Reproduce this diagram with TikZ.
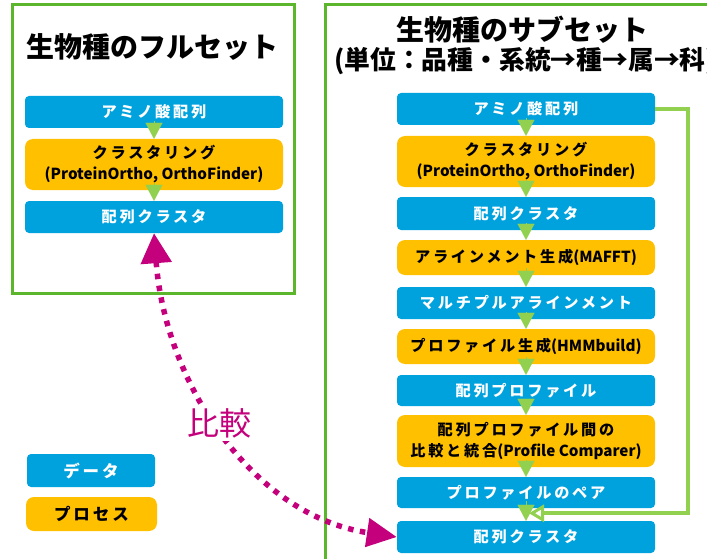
\documentclass[tikz,border=0pt]{standalone}
\usepackage{fontspec}
\setmainfont{Noto Sans CJK JP}
\usetikzlibrary{arrows.meta,calc}
\definecolor{dblue}{RGB}{0,162,222}
\definecolor{porange}{RGB}{255,192,0}
\definecolor{framegreen}{RGB}{92,182,44}
\definecolor{lgreen}{RGB}{146,208,80}
\definecolor{cmpmag}{RGB}{196,0,124}
\newcommand{\jpsp}[1]{{\addfontfeature{LetterSpace=18}#1}}
\tikzset{
  boxbase/.style={inner sep=0pt, minimum width=258pt, align=center, font=\fontsize{15.2}{21}\selectfont\bfseries},
  databox/.style={boxbase, fill=dblue, text=white, rounded corners=4pt},
  procbox/.style={boxbase, fill=porange, text=black, rounded corners=8pt},
  framebox/.style={draw=framegreen, line width=3pt},
  titletext/.style={font=\fontsize{28}{32}\selectfont\bfseries, inner sep=0pt},
  subtitletext/.style={font=\fontsize{25.8}{30}\selectfont\bfseries, inner sep=0pt},
  flowtip/.style={draw=lgreen, line width=0.1pt, -{Triangle[length=16pt,width=17pt]}, fill=lgreen},
  backline/.style={draw=lgreen, line width=4.5pt, -{Triangle[open,length=15pt,width=17pt,line width=3pt]}},
  cmpline/.style={draw=cmpmag, line width=5.5pt, dash pattern=on 5.5pt off 6.5pt,
     {Triangle[length=30pt,width=30pt,fill=cmpmag]}-{Triangle[length=30pt,width=28pt,fill=cmpmag]}},
  cmplabel/.style={text=cmpmag, fill=white, inner sep=3pt, font=\fontsize{32}{36}\selectfont}
}
\begin{document}
\begin{tikzpicture}[x=1pt,y=-1pt]
\clip (0,0) rectangle (707,559);
\fill[white] (0,0) rectangle (707,559);
% frames
\draw[framebox] (12,5) rectangle (294,293);
\draw[framebox] (325,5) rectangle (760,600);
% titles
\node[titletext] (t1) at (153,47) {生物種のフルセット};
\node[titletext] (t2) at (522,30) {生物種のサブセット};
\node[subtitletext, anchor=west] (t3) at (334,61) {(単位：品種・系統→種→属→科)};
% left column
\node[databox, minimum height=32pt] (l1) at (154,112) {\jpsp{アミノ酸配列}};
\node[procbox, minimum height=51pt] (l2) at (154,164.5) {\jpsp{クラスタリング}\\(ProteinOrtho, OrthoFinder)};
\node[databox, minimum height=32pt] (l3) at (154,217) {\jpsp{配列クラスタ}};
% right column
\node[databox, minimum height=32pt] (r1) at (526,109) {\jpsp{アミノ酸配列}};
\node[procbox, minimum height=51pt] (r2) at (526,161.5) {\jpsp{クラスタリング}\\(ProteinOrtho, OrthoFinder)};
\node[databox, minimum height=33pt] (r3) at (526,213.5) {\jpsp{配列クラスタ}};
\node[procbox, minimum height=35pt] (r4) at (526,257.5) {\jpsp{アラインメント生成}(MAFFT)};
\node[databox, minimum height=32pt] (r5) at (526,303) {\jpsp{マルチプルアラインメント}};
\node[procbox, minimum height=35pt] (r6) at (526,346.5) {\jpsp{プロファイル生成}(HMMbuild)};
\node[databox, minimum height=31pt] (r7) at (526,390.5) {\jpsp{配列プロファイル}};
\node[procbox, minimum height=52pt] (r8) at (526,441) {\jpsp{配列プロファイル間の}\\\jpsp{比較と統合}(Profile Comparer)};
\node[databox, minimum height=31pt] (r9) at (526,492.5) {\jpsp{プロファイルのペア}};
\node[databox, minimum height=32pt] (r10) at (526,537) {\jpsp{配列クラスタ}};
% legend
\node[databox, minimum width=128pt, minimum height=33pt, font=\fontsize{16.5}{21}\selectfont\bfseries] (lg1) at (91,470.5) {\jpsp{データ}};
\node[procbox, minimum width=131pt, minimum height=34pt, font=\fontsize{16.5}{21}\selectfont\bfseries] (lg2) at (91.5,514) {\jpsp{プロセス}};
% flow tips
\foreach \a/\b in {l1/l2,l2/l3,r1/r2,r2/r3,r3/r4,r4/r5,r5/r6,r6/r7,r7/r8,r8/r9,r9/r10}{
  \draw[flowtip] ([yshift=7pt]\a.south) -- (\b.north);
}
% back line
\coordinate (loopend) at ([xshift=3pt]$(r9.south)!0.4!(r10.north)$);
\draw[backline] (r1.east) -- ++(33,0) |- (loopend);
% comparison
\draw[cmpline] (l3.south) .. controls (165,380) and (250,515) .. (r10.west);
\node[cmplabel] (cmp) at (219,423) {比較};
\end{tikzpicture}
\end{document}
